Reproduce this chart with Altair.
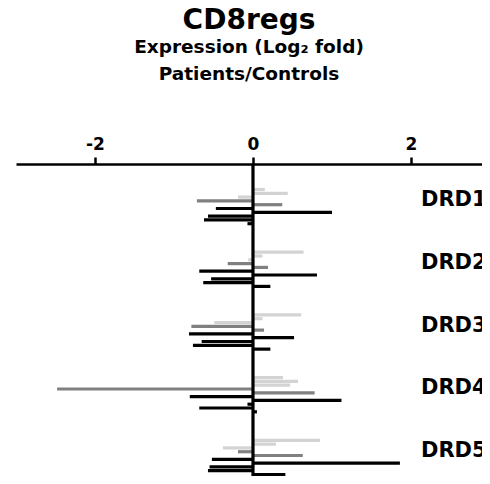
import altair as alt
import pandas as pd

genes = ["DRD1", "DRD2", "DRD3", "DRD4", "DRD5"]
series = ["S1", "S2", "S3", "S4", "S5", "S6", "S7", "S8", "S9", "S10"]
series_colors = ["#d3d3d3", "#d3d3d3", "#d3d3d3", "#808080", "#808080",
                 "#000000", "#000000", "#000000", "#000000", "#000000"]

drd1 = [0.15, 0.44, -0.19, -0.71, 0.37, -0.47, 1.00, -0.57, -0.62, -0.07]
drd2 = [0.64, 0.12, -0.06, -0.32, 0.19, -0.68, 0.81, -0.53, -0.63, 0.22]
drd3 = [0.61, 0.12, -0.49, -0.78, 0.14, -0.81, 0.52, -0.65, -0.76, 0.22]
drd4 = [0.38, 0.57, 0.47, -2.48, 0.78, -0.80, 1.12, -0.07, -0.68, 0.05]
drd5 = [0.85, 0.29, -0.38, -0.19, 0.63, -0.52, 1.86, -0.55, -0.57, 0.41]
values = [drd1, drd2, drd3, drd4, drd5]

GROUP_STEP = 16.5
rows = []
for g, (gene, vals) in enumerate(zip(genes, values)):
    for i, (s, v) in enumerate(zip(series, vals)):
        rows.append({"gene": gene, "series": s, "value": v, "pos": g * GROUP_STEP + i})
df = pd.DataFrame(rows)

labels = pd.DataFrame({"gene": genes, "pos": [g * GROUP_STEP + 2.8 for g in range(len(genes))]})

FONT = "DejaVu Sans"
xscale = alt.Scale(domain=[-3, 2.899], nice=False, zero=False)
yscale = alt.Scale(domain=[-6.71, 75.39], nice=False, zero=False, reverse=True)

bars = alt.Chart(df).mark_rule(strokeWidth=3.2, strokeCap="butt").encode(
    x=alt.X("value:Q", scale=xscale,
            axis=alt.Axis(orient="top", values=[-2, 0, 2], title=None, grid=False,
                          domainColor="black", domainWidth=2.5, tickColor="black",
                          tickWidth=2.5, tickSize=7, labelFont=FONT, labelFontSize=17,
                          labelFontWeight="bold", labelColor="black", labelPadding=4,
                          labelExpr="'' + datum.value")),
    x2=alt.datum(0),
    y=alt.Y("pos:Q", scale=yscale, axis=None),
    color=alt.Color("series:N", scale=alt.Scale(domain=series, range=series_colors), legend=None),
)

zero = alt.Chart(pd.DataFrame({"v": [0]})).mark_rule(color="black", strokeWidth=3.2).encode(
    x=alt.X("v:Q", scale=xscale),
    y=alt.value(0),
    y2=alt.value(312),
)

text = alt.Chart(labels).mark_text(align="left", baseline="middle", font=FONT,
                                   fontSize=21, fontWeight="bold", color="black").encode(
    x=alt.datum(2.127, scale=xscale),
    y=alt.Y("pos:Q", scale=yscale),
    text="gene:N",
)

chart = alt.layer(bars, zero, text).properties(
    width=466, height=312,
    title=alt.Title("CD8regs", subtitle=["Expression (Log₂ fold)", "Patients/Controls"],
                    font=FONT, fontSize=28, fontWeight="bold", color="black",
                    subtitleFont=FONT, subtitleFontSize=18.5, subtitleFontWeight="bold",
                    subtitleColor="black", subtitleLineHeight=27, subtitlePadding=3,
                    anchor="middle", offset=52),
    autosize=alt.AutoSizeParams(type="none"),
    padding={"left": 8, "top": 156, "right": 0, "bottom": 0},
).configure_view(stroke=None)

chart.save("out.html", embed_options={"renderer": "svg", "actions": False})
